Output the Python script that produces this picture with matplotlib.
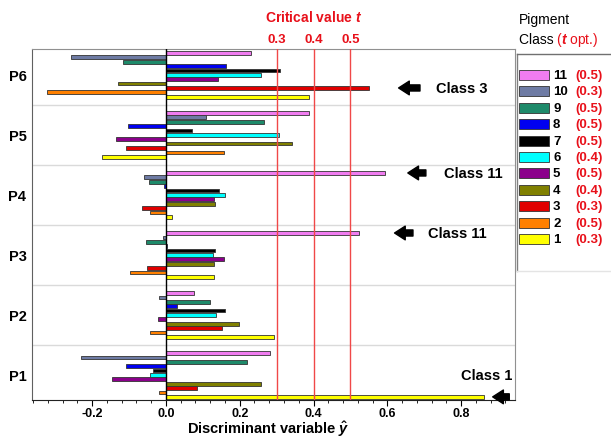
import matplotlib
matplotlib.use("Agg")
import matplotlib.pyplot as plt
from matplotlib.patches import Rectangle
from matplotlib.lines import Line2D
from matplotlib.ticker import MultipleLocator
import matplotlib.transforms as mtransforms

plt.rcParams['font.family'] = ['Liberation Sans', 'DejaVu Sans']
plt.rcParams['mathtext.fontset'] = 'custom'
plt.rcParams['mathtext.rm'] = 'Liberation Sans:bold'
plt.rcParams['mathtext.it'] = 'Liberation Sans:italic:bold'
plt.rcParams['mathtext.bf'] = 'Liberation Sans:bold'

# data: groups P1..P6, values for pigment classes 1..11
groups = ['P1', 'P2', 'P3', 'P4', 'P5', 'P6']
classes = [1, 2, 3, 4, 5, 6, 7, 8, 9, 10, 11]
t_opt = [0.3, 0.5, 0.3, 0.4, 0.5, 0.4, 0.5, 0.5, 0.5, 0.3, 0.5]
colors = ['#FFFF00', '#FF8000', '#E00000', '#808000', '#8B008B', '#00FFFF',
          '#000000', '#0000F0', '#1E8A6A', '#6E7BA4', '#F07CF0']

p1 = [0.862, -0.018, 0.084, 0.257, -0.145, -0.042, -0.036, -0.107, 0.220, -0.231, 0.283]
p2 = [0.294, -0.044, 0.153, 0.198, -0.021, 0.135, 0.161, 0.030, 0.120, -0.018, 0.076]
p3 = [0.131, -0.098, -0.050, 0.130, 0.157, 0.128, 0.134, 0.004, -0.053, -0.008, 0.524]
p4 = [0.017, -0.042, -0.064, 0.133, 0.129, 0.160, 0.145, -0.006, -0.047, -0.059, 0.593]
p5 = [-0.174, 0.158, -0.108, 0.341, -0.134, 0.307, 0.070, -0.104, 0.266, 0.109, 0.388]
p6 = [0.387, -0.321, 0.551, -0.129, 0.142, 0.258, 0.310, 0.162, -0.117, -0.257, 0.230]
values = [p1, p2, p3, p4, p5, p6]

critical = [0.3, 0.4, 0.5]

W, H = 611, 439
fig = plt.figure(figsize=(W / 100, H / 100), dpi=100)
ax = fig.add_axes([32 / W, 1 - 401 / H, (515 - 32) / W, (401 - 50) / H])

step = 0.073
bh = 0.062
for g, vals in enumerate(values):
    for k, v in enumerate(vals):
        y = g + (k - 5) * step
        ax.barh(y, v, height=bh, color=colors[k], edgecolor='#333333', linewidth=0.6, zorder=3)

# group separators
for g in range(len(groups) - 1):
    ax.axhline(g + 0.5, color='#DADADA', lw=1, zorder=1)

top_tr = mtransforms.blended_transform_factory(ax.transData, ax.transAxes)
for c in critical:
    ax.axvline(c, color='#F04848', lw=1, zorder=4)
    ax.text(c, 1.028, '%.1f' % c, transform=top_tr,
            color='#E8101A', fontsize=9.5, fontweight='bold', ha='center', va='center')
ax.text(0.4, 1.092, 'Critical value $t$', transform=top_tr,
        color='#E8101A', fontsize=10, fontweight='bold', ha='center', va='center')

ax.axvline(0, color='black', lw=1, zorder=5)

ax.set_xlim(-0.363, 0.946)
ax.set_ylim(-0.417, 5.43)
ax.set_yticks(range(len(groups)))
ax.set_yticklabels(groups, fontsize=10.5, fontweight='bold')
ax.tick_params(axis='y', length=0, pad=4)
ax.set_xticks([-0.2, 0.0, 0.2, 0.4, 0.6, 0.8])
ax.set_xticklabels(['-0.2', '0.0', '0.2', '0.4', '0.6', '0.8'], fontsize=9, fontweight='bold')
ax.xaxis.set_minor_locator(MultipleLocator(0.04))
ax.tick_params(axis='x', which='major', length=4, direction='out', pad=1)
ax.tick_params(axis='x', which='minor', length=2.5, direction='out')
ax.set_xlabel(r'Discriminant variable $\hat{y}$', fontsize=10.5, fontweight='bold')
ax.xaxis.set_label_coords(0.49, -0.053)
for s in ['top', 'right']:
    ax.spines[s].set_color('#909090')
ax.spines['left'].set_color('#606060')
ax.spines['bottom'].set_color('#222222')

# arrows and labels
def arrow(x0, x1, y):
    ax.annotate('', xy=(x0, y), xytext=(x1, y),
                arrowprops=dict(arrowstyle='simple,head_length=0.7,head_width=0.9,tail_width=0.4',
                                color='black', mutation_scale=11), zorder=6)

arrow(0.623, 0.696, 5 + (2 - 5) * step)
ax.text(0.732, 5 + (2 - 5) * step, 'Class 3', fontsize=10.5, fontweight='bold', va='center')
arrow(0.648, 0.712, 3 + 5 * step)
ax.text(0.753, 3 + 5 * step, 'Class 11', fontsize=10.5, fontweight='bold', va='center')
arrow(0.612, 0.677, 2 + 5 * step)
ax.text(0.71, 2 + 5 * step, 'Class 11', fontsize=10.5, fontweight='bold', va='center')
arrow(0.878, 0.938, 0 - 5 * step)
ax.text(0.938, 0.0, 'Class 1', fontsize=10.5, fontweight='bold', va='center', ha='right')

# legend panel
fig.lines.append(Line2D([517 / W, 517 / W], [1 - 55 / H, 1 - 272 / H], transform=fig.transFigure,
                        color='#808080', lw=1))
fig.lines.append(Line2D([517 / W, 1.0], [1 - 55 / H, 1 - 55 / H], transform=fig.transFigure,
                        color='#707070', lw=1))
fig.lines.append(Line2D([517 / W, 1.0], [1 - 272 / H, 1 - 272 / H], transform=fig.transFigure,
                        color='#E4E4E4', lw=1))
fig.text(519 / W, 1 - 20 / H, 'Pigment', fontsize=10, va='center', ha='left')
fig.text(519 / W, 1 - 40 / H, 'Class ', fontsize=10, va='center', ha='left')
fig.text(556 / W, 1 - 40 / H, '(', fontsize=10, va='center', ha='left', color='#E8101A')
fig.text(561 / W, 1 - 40 / H, r'$t$ opt.)', fontsize=10, va='center', ha='left', color='#E8101A')
for i, k in enumerate(reversed(range(len(classes)))):
    yc = 1 - (76 + 16.4 * i) / H
    fig.patches.append(Rectangle((519 / W, yc - 5 / H), 30 / W, 10 / H, transform=fig.transFigure,
                                 facecolor=colors[k], edgecolor='#333333', lw=0.6))
    fig.text(553 / W, yc, str(classes[k]), fontsize=9.5, fontweight='bold', va='center', ha='left')
    fig.text(575 / W, yc, '(%.1f)' % t_opt[k], fontsize=9.5, fontweight='bold', va='center', ha='left',
             color='#E8101A')

fig.savefig('out.png', dpi=100)
